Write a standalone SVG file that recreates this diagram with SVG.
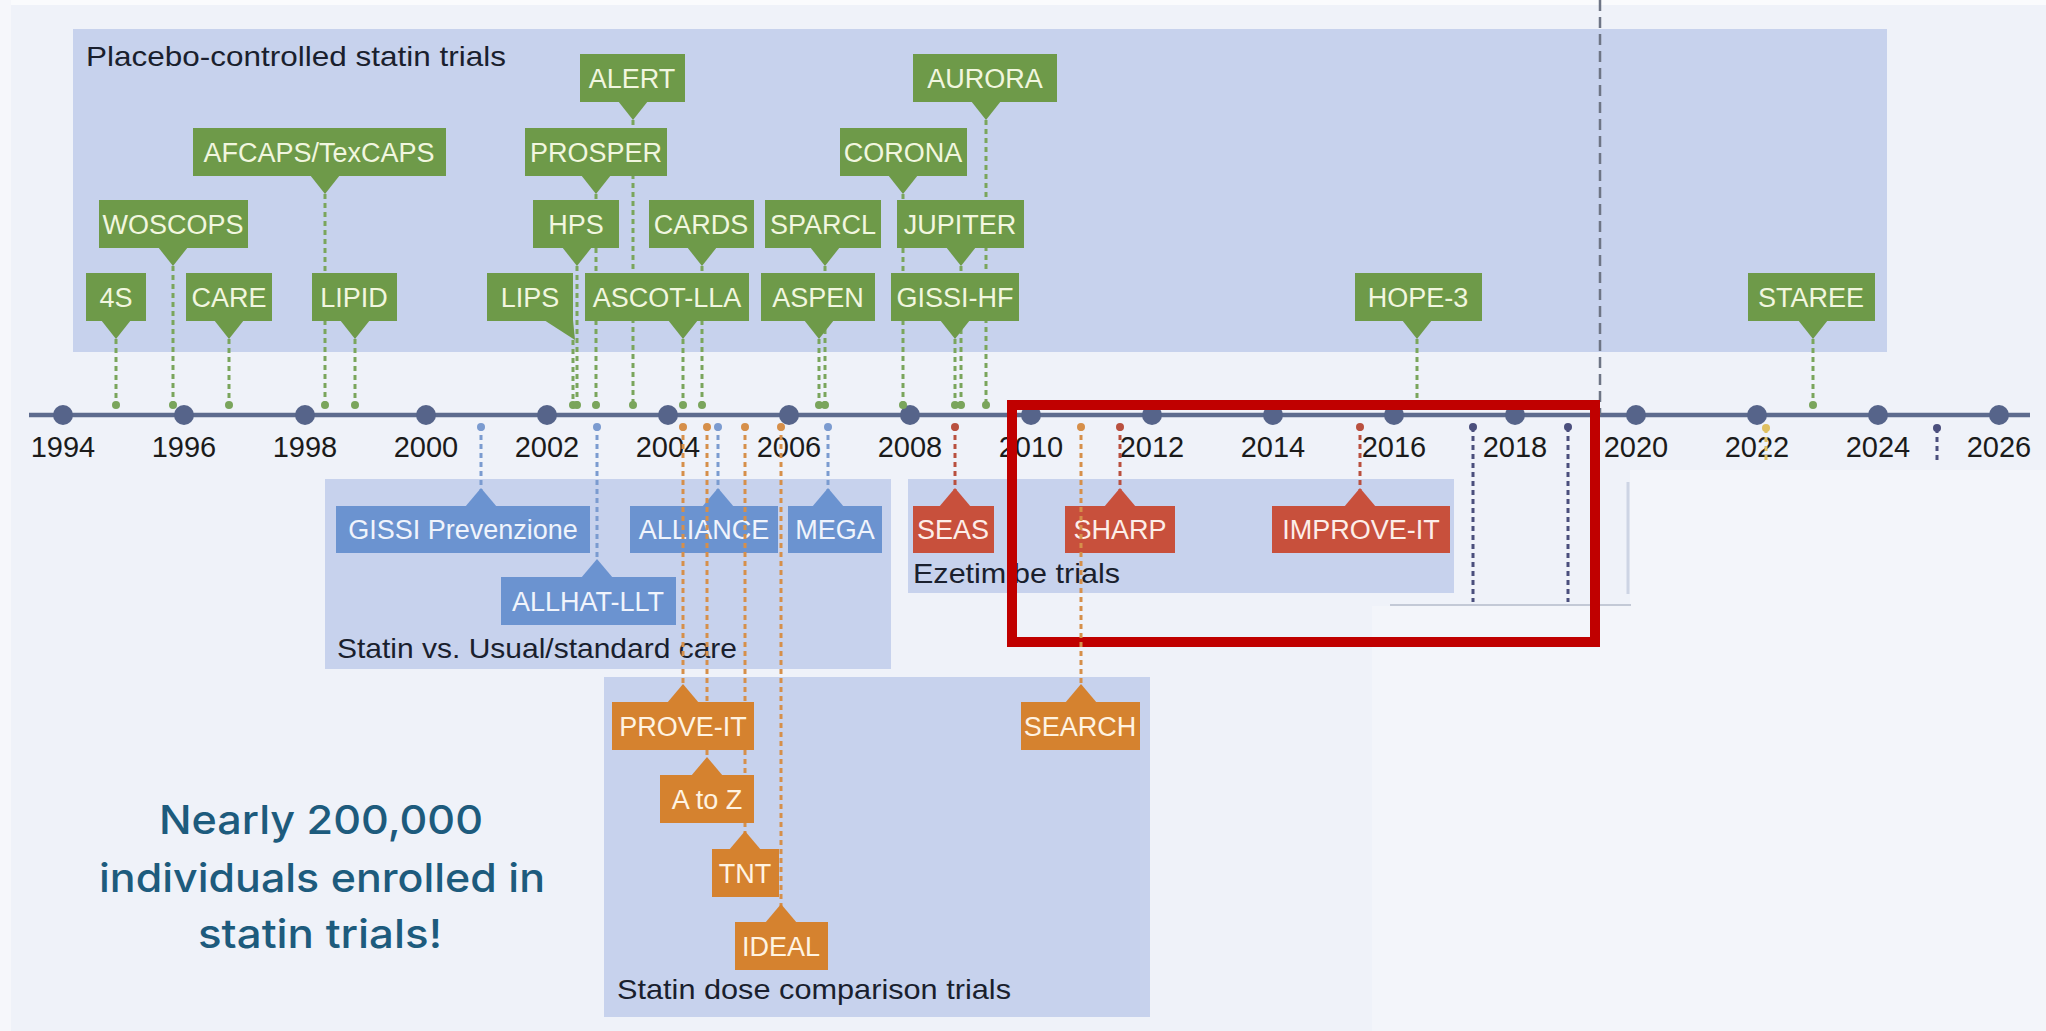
<svg xmlns="http://www.w3.org/2000/svg" width="2046" height="1031" viewBox="0 0 2046 1031">
<style>
.lb{font-family:"Liberation Sans",Arial,sans-serif;font-size:27px;text-anchor:middle}
.gt{fill:#f1f6df}.bt{fill:#f0f4fc}.ot{fill:#fff3e2}.rt{fill:#fdeee9}
.g{fill:#6e9a49}.b{fill:#6b93d0}.o{fill:#d5822f}.r{fill:#c8503c}
.cat{font-family:"Liberation Sans",Arial,sans-serif;font-size:28px;fill:#1a1f2e}
.yr{font-family:"Liberation Sans",Arial,sans-serif;font-size:29px;fill:#1b1b1b;text-anchor:middle}
.grp{fill:#c7d2ed}
.gl{stroke:#7aa55c;stroke-width:3;stroke-dasharray:5 4;fill:none}
.blc{stroke:#7b9bd0;stroke-width:3;stroke-dasharray:5 4;fill:none}
.ol{stroke:#d68f4a;stroke-width:3;stroke-dasharray:5 4;fill:none}
.rl{stroke:#b9503f;stroke-width:3;stroke-dasharray:5 4;fill:none}
.nl{stroke:#4b4f7d;stroke-width:3;stroke-dasharray:5 4;fill:none}
.yl{stroke:#e0c060;stroke-width:3;stroke-dasharray:5 4;fill:none}
.big{font-family:Inter,"Liberation Sans",sans-serif;font-size:40px;font-weight:500;fill:#1d5b7d;text-anchor:middle}
</style>
<rect x="0" y="0" width="2046" height="1031" fill="#eff2f9"/>
<rect x="1372" y="606" width="674" height="425" fill="#f3f5fa"/>
<rect x="1630" y="470" width="416" height="136" fill="#f3f5fa"/>
<rect x="0" y="0" width="2046" height="5" fill="#fafbfd"/>
<rect x="0" y="0" width="11" height="1031" fill="#f6f7fb"/>

<g id="groups">
<rect class="grp" x="73" y="29" width="1814" height="323"/>
<rect class="grp" x="325" y="479" width="566" height="190"/>
<rect class="grp" x="908" y="479" width="546" height="114"/>
<rect class="grp" x="604" y="677" width="546" height="340"/>
<line x1="1628" y1="482" x2="1628" y2="594" stroke="#cdd4e4" stroke-width="3"/>
<line x1="1390" y1="605" x2="1631" y2="605" stroke="#c3c9d6" stroke-width="2"/>
<text class="cat" x="86" y="66" textLength="420" lengthAdjust="spacingAndGlyphs">Placebo-controlled statin trials</text>
<text class="cat" x="337" y="658" textLength="400" lengthAdjust="spacingAndGlyphs">Statin vs. Usual/standard care</text>
<text class="cat" x="913" y="583" textLength="207" lengthAdjust="spacingAndGlyphs">Ezetimibe trials</text>
<text class="cat" x="617" y="999" textLength="394" lengthAdjust="spacingAndGlyphs">Statin dose comparison trials</text>
</g>

<g id="timeline">
<line x1="29" y1="415" x2="2030" y2="415" stroke="#5d6b8e" stroke-width="4.5"/>
<g fill="#56648a">
<circle cx="63" cy="415" r="10"/><circle cx="184" cy="415" r="10"/><circle cx="305" cy="415" r="10"/><circle cx="426" cy="415" r="10"/><circle cx="547" cy="415" r="10"/><circle cx="668" cy="415" r="10"/><circle cx="789" cy="415" r="10"/><circle cx="910" cy="415" r="10"/><circle cx="1031" cy="415" r="10"/><circle cx="1152" cy="415" r="10"/><circle cx="1273" cy="415" r="10"/><circle cx="1394" cy="415" r="10"/><circle cx="1515" cy="415" r="10"/><circle cx="1636" cy="415" r="10"/><circle cx="1757" cy="415" r="10"/><circle cx="1878" cy="415" r="10"/><circle cx="1999" cy="415" r="10"/>
</g>
<text class="yr" x="63" y="457">1994</text><text class="yr" x="184" y="457">1996</text><text class="yr" x="305" y="457">1998</text><text class="yr" x="426" y="457">2000</text><text class="yr" x="547" y="457">2002</text><text class="yr" x="668" y="457">2004</text><text class="yr" x="789" y="457">2006</text><text class="yr" x="910" y="457">2008</text><text class="yr" x="1031" y="457">2010</text><text class="yr" x="1152" y="457">2012</text><text class="yr" x="1273" y="457">2014</text><text class="yr" x="1394" y="457">2016</text><text class="yr" x="1515" y="457">2018</text><text class="yr" x="1636" y="457">2020</text><text class="yr" x="1757" y="457">2022</text><text class="yr" x="1878" y="457">2024</text><text class="yr" x="1999" y="457">2026</text>
</g>

<g id="connectors-green">
<path class="gl" d="M116 339V405M173 266V405M229 339V405M325 194V405M355 339V405M573 340V405M577 266V405M596 194V405M633 120V405M683 339V405M702 266V405M819 339V405M825 266V405M903 194V405M955 339V405M961 266V405M986 120V405M1417 339V405M1813 339V405"/>
<g fill="#7aa55c">
<circle cx="116" cy="405" r="4"/><circle cx="173" cy="405" r="4"/><circle cx="229" cy="405" r="4"/><circle cx="325" cy="405" r="4"/><circle cx="355" cy="405" r="4"/><circle cx="573" cy="405" r="4"/><circle cx="577" cy="405" r="4"/><circle cx="596" cy="405" r="4"/><circle cx="633" cy="405" r="4"/><circle cx="683" cy="405" r="4"/><circle cx="702" cy="405" r="4"/><circle cx="819" cy="405" r="4"/><circle cx="825" cy="405" r="4"/><circle cx="903" cy="405" r="4"/><circle cx="955" cy="405" r="4"/><circle cx="961" cy="405" r="4"/><circle cx="986" cy="405" r="4"/><circle cx="1417" cy="405" r="4"/><circle cx="1813" cy="405" r="4"/>
</g>
</g>

<g id="n-alert"><rect class="g" x="580" y="54" width="105" height="48"/><polygon class="g" points="618,101 633,120 648,101"/><text class="lb gt" x="632" y="88">ALERT</text></g>
<g id="n-aurora"><rect class="g" x="913" y="54" width="144" height="48"/><polygon class="g" points="971,101 986,120 1001,101"/><text class="lb gt" x="985" y="88">AURORA</text></g>
<g id="n-afcaps"><rect class="g" x="193" y="128" width="253" height="48"/><polygon class="g" points="310,175 325,194 340,175"/><text class="lb gt" x="319" y="162">AFCAPS/TexCAPS</text></g>
<g id="n-prosper"><rect class="g" x="525" y="128" width="142" height="48"/><polygon class="g" points="581,175 596,194 611,175"/><text class="lb gt" x="596" y="162">PROSPER</text></g>
<g id="n-corona"><rect class="g" x="840" y="128" width="127" height="48"/><polygon class="g" points="888,175 903,194 918,175"/><text class="lb gt" x="903" y="162">CORONA</text></g>
<g id="n-woscops"><rect class="g" x="99" y="200" width="149" height="48"/><polygon class="g" points="158,247 173,266 188,247"/><text class="lb gt" x="173" y="234">WOSCOPS</text></g>
<g id="n-hps"><rect class="g" x="533" y="200" width="86" height="48"/><polygon class="g" points="562,247 577,266 592,247"/><text class="lb gt" x="576" y="234">HPS</text></g>
<g id="n-cards"><rect class="g" x="649" y="200" width="105" height="48"/><polygon class="g" points="687,247 702,266 717,247"/><text class="lb gt" x="701" y="234">CARDS</text></g>
<g id="n-sparcl"><rect class="g" x="765" y="200" width="116" height="48"/><polygon class="g" points="810,247 825,266 840,247"/><text class="lb gt" x="823" y="234">SPARCL</text></g>
<g id="n-jupiter"><rect class="g" x="897" y="200" width="127" height="48"/><polygon class="g" points="946,247 961,266 976,247"/><text class="lb gt" x="960" y="234">JUPITER</text></g>
<g id="n-4s"><rect class="g" x="86" y="273" width="60" height="48"/><polygon class="g" points="101,320 116,339 131,320"/><text class="lb gt" x="116" y="307">4S</text></g>
<g id="n-care"><rect class="g" x="186" y="273" width="86" height="48"/><polygon class="g" points="214,320 229,339 244,320"/><text class="lb gt" x="229" y="307">CARE</text></g>
<g id="n-lipid"><rect class="g" x="312" y="273" width="85" height="48"/><polygon class="g" points="340,320 355,339 370,320"/><text class="lb gt" x="354" y="307">LIPID</text></g>
<g id="n-lips"><rect class="g" x="487" y="273" width="86" height="48"/><polygon class="g" points="544,320 575,340 573,320"/><text class="lb gt" x="530" y="307">LIPS</text></g>
<g id="n-ascot"><rect class="g" x="585" y="273" width="164" height="48"/><polygon class="g" points="668,320 683,339 698,320"/><text class="lb gt" x="667" y="307">ASCOT-LLA</text></g>
<g id="n-aspen"><rect class="g" x="761" y="273" width="114" height="48"/><polygon class="g" points="804,320 819,339 834,320"/><text class="lb gt" x="818" y="307">ASPEN</text></g>
<g id="n-gissihf"><rect class="g" x="891" y="273" width="128" height="48"/><polygon class="g" points="940,320 955,339 970,320"/><text class="lb gt" x="955" y="307">GISSI-HF</text></g>
<g id="n-hope3"><rect class="g" x="1355" y="273" width="127" height="48"/><polygon class="g" points="1402,320 1417,339 1432,320"/><text class="lb gt" x="1418" y="307">HOPE-3</text></g>
<g id="n-staree"><rect class="g" x="1748" y="273" width="127" height="48"/><polygon class="g" points="1798,320 1813,339 1828,320"/><text class="lb gt" x="1811" y="307">STAREE</text></g>

<g id="connectors-blue">
<path class="blc" d="M481 426V490M597 426V561M718 426V490M828 426V490"/>
<g fill="#7b9bd0"><circle cx="481" cy="427" r="4"/><circle cx="597" cy="427" r="4"/><circle cx="718" cy="427" r="4"/><circle cx="828" cy="427" r="4"/></g>
</g>
<g id="n-gissip"><rect class="b" x="336" y="506" width="254" height="47"/><polygon class="b" points="465,507 481,488 497,507"/><text class="lb bt" x="463" y="539">GISSI Prevenzione</text></g>
<g id="n-alliance"><rect class="b" x="630" y="506" width="148" height="47"/><polygon class="b" points="702,507 718,488 734,507"/><text class="lb bt" x="704" y="539">ALLIANCE</text></g>
<g id="n-mega"><rect class="b" x="788" y="506" width="94" height="47"/><polygon class="b" points="812,507 828,488 844,507"/><text class="lb bt" x="835" y="539">MEGA</text></g>
<g id="n-allhat"><rect class="b" x="501" y="577" width="175" height="48"/><polygon class="b" points="581,578 597,559 613,578"/><text class="lb bt" x="588" y="611">ALLHAT-LLT</text></g>

<g id="connectors-red">
<path class="rl" d="M955 426V490M1120 426V490M1360 426V490"/>
<g fill="#b9503f"><circle cx="955" cy="427" r="4"/><circle cx="1120" cy="427" r="4"/><circle cx="1360" cy="427" r="4"/></g>
</g>
<g id="n-seas"><rect class="r" x="913" y="506" width="81" height="47"/><polygon class="r" points="939,507 955,488 971,507"/><text class="lb rt" x="953" y="539">SEAS</text></g>
<g id="n-sharp"><rect class="r" x="1065" y="506" width="110" height="47"/><polygon class="r" points="1104,507 1120,488 1136,507"/><text class="lb rt" x="1120" y="539">SHARP</text></g>
<g id="n-improveit"><rect class="r" x="1272" y="506" width="178" height="47"/><polygon class="r" points="1344,507 1360,488 1376,507"/><text class="lb rt" x="1361" y="539">IMPROVE-IT</text></g>

<g id="connectors-other">
<path class="nl" d="M1473 427V602M1568 427V602M1937 428V463"/>
<path class="yl" d="M1766 428V463"/>
<g fill="#4b4f7d"><circle cx="1473" cy="427" r="4"/><circle cx="1568" cy="427" r="4"/><circle cx="1937" cy="428" r="4"/></g>
<circle cx="1766" cy="428" r="4" fill="#e0c060"/>
<line x1="1600" y1="0" x2="1600" y2="415" stroke="#6e7585" stroke-width="2.5" stroke-dasharray="11 6"/>
</g>

<g id="highlight"><rect x="1012" y="405" width="583" height="237" fill="none" stroke="#c00000" stroke-width="10"/></g>

<g id="connectors-orange">
<path class="ol" d="M683 426V686M707 426V759M745 426V833M781 426V906M1081 426V686"/>
<g fill="#d68f4a"><circle cx="683" cy="427" r="4"/><circle cx="707" cy="427" r="4"/><circle cx="745" cy="427" r="4"/><circle cx="781" cy="427" r="4"/><circle cx="1081" cy="427" r="4"/></g>
</g>
<g id="n-proveit"><rect class="o" x="612" y="702" width="142" height="48"/><polygon class="o" points="667,703 683,684 699,703"/><text class="lb ot" x="683" y="736">PROVE-IT</text></g>
<g id="n-atoz"><rect class="o" x="660" y="775" width="94" height="48"/><polygon class="o" points="691,776 707,757 723,776"/><text class="lb ot" x="707" y="809">A to Z</text></g>
<g id="n-tnt"><rect class="o" x="712" y="849" width="67" height="48"/><polygon class="o" points="729,850 745,831 761,850"/><text class="lb ot" x="745" y="883">TNT</text></g>
<g id="n-ideal"><rect class="o" x="735" y="922" width="93" height="48"/><polygon class="o" points="765,923 781,904 797,923"/><text class="lb ot" x="781" y="956">IDEAL</text></g>
<g id="n-search"><rect class="o" x="1021" y="702" width="119" height="48"/><polygon class="o" points="1065,703 1081,684 1097,703"/><text class="lb ot" x="1080" y="736">SEARCH</text></g>

<g id="note">
<text class="big" x="321" y="834" textLength="324" lengthAdjust="spacingAndGlyphs">Nearly 200,000</text>
<text class="big" x="322" y="892" textLength="446" lengthAdjust="spacingAndGlyphs">individuals enrolled in</text>
<text class="big" x="320" y="948" textLength="244" lengthAdjust="spacingAndGlyphs">statin trials!</text>
</g>
</svg>
